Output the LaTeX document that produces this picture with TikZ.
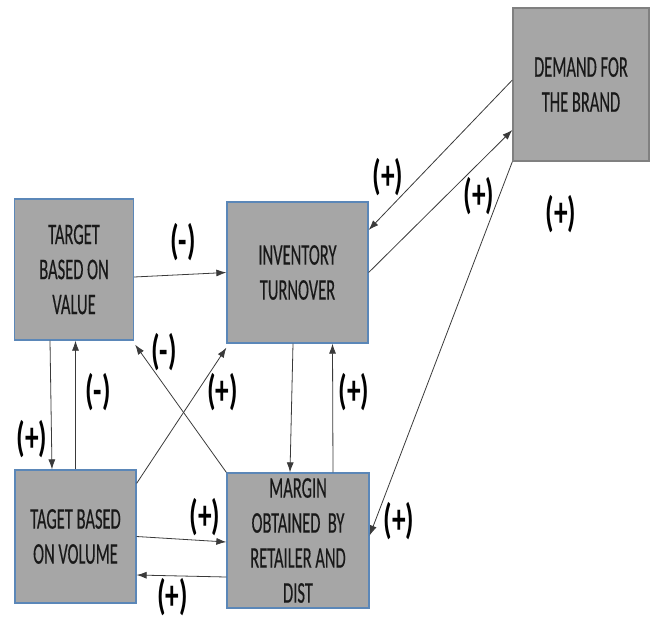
\documentclass[tikz,border=0pt]{standalone}
\usepackage{fontspec}
\setmainfont{Carlito}
\newfontfamily\boxfont{Carlito}[FakeBold=0.5]
\usetikzlibrary{arrows.meta}
\definecolor{boxfill}{HTML}{A6A6A6}
\definecolor{boxedge}{HTML}{5B87B8}
\definecolor{demandedge}{HTML}{808080}
\definecolor{linkcol}{HTML}{3A3A3A}
\newcommand\narrowtext[1]{\scalebox{0.55}[1]{#1}}
\begin{document}
\begin{tikzpicture}[x=1pt,y=-1pt,
  box/.style={draw=boxedge, line width=1.3pt, fill=boxfill, inner sep=0pt,
    align=center, font=\boxfont\fontsize{30}{35}\selectfont, text=black!90},
  link/.style={draw=linkcol, line width=0.8pt, -{Latex[length=10pt,width=7pt]}},
  sign/.style={font=\bfseries\fontsize{42}{42}\selectfont, inner sep=0pt, xscale=0.65}]
\useasboundingbox (0,0) rectangle (651,619);

% boxes
\node[box, minimum width=119pt, minimum height=141pt] (tv) at (74,269.5)
  {\narrowtext{TARGET}\\\narrowtext{BASED ON}\\\narrowtext{VALUE}};
\node[box, minimum width=141pt, minimum height=141pt] (it) at (297.5,272.5)
  {\narrowtext{INVENTORY}\\\narrowtext{TURNOVER}};
\node[box, draw=demandedge, minimum width=136pt, minimum height=153pt] (dm) at (581,84.5)
  {\narrowtext{DEMAND FOR}\\\narrowtext{THE BRAND}};
\node[box, minimum width=121pt, minimum height=133pt] (tvol) at (75.5,536.5)
  {\narrowtext{TAGET BASED}\\\narrowtext{ON VOLUME}};
\node[box, minimum width=142pt, minimum height=135pt] (mg) at (298,540.5)
  {\narrowtext{MARGIN}\\\narrowtext{OBTAINED~~BY}\\\narrowtext{RETAILER AND}\\\narrowtext{DIST}};

% connectors
\draw[link] ([yshift=-7.5pt]tv.east) -- (it.west);
\draw[link] ([xshift=-24pt]tv.south) -- ([xshift=-23.5pt]tvol.north);
\draw[link] (tvol.north) -- (tvol.north |- tv.south);
\draw[link] (mg.north west) -- ([xshift=1pt,yshift=-4pt]tv.south east);
\draw[link] ([yshift=-14pt]tvol.north east) -- ([yshift=-4pt]it.south west);
\draw[link] (tvol.east) -- ([yshift=-1.5pt]mg.west);
\draw[link] ([yshift=-36.5pt]mg.west) -- ([yshift=-38.5pt]tvol.east);
\draw[link] ([xshift=-4.5pt]it.south) -- ([xshift=-8pt]mg.north);
\draw[link] ([xshift=35pt]mg.north) -- ([xshift=35pt]it.south);
\draw[link] (dm.south west) -- ([yshift=5pt]mg.east);
\draw[link] ([yshift=4.5pt]dm.west) -- ([yshift=42.5pt]it.east);
\draw[link] (it.east) -- ([yshift=-45.5pt]dm.west);

% polarity signs
\node[sign] (s1) at (183,242) {(-)};
\node[sign] (s2) at (32,439) {(+)};
\node[sign] (s3) at (98,392) {(-)};
\node[sign] (s4) at (164,352) {(-)};
\node[sign] (s5) at (222.5,392) {(+)};
\node[sign] (s6) at (205,517) {(+)};
\node[sign] (s7) at (172.5,597) {(+)};
\node[sign] (s8) at (354,392) {(+)};
\node[sign] (s9) at (399,521) {(+)};
\node[sign] (s10) at (388,177) {(+)};
\node[sign] (s11) at (479,196) {(+)};
\node[sign] (s12) at (561,214) {(+)};
\end{tikzpicture}
\end{document}
